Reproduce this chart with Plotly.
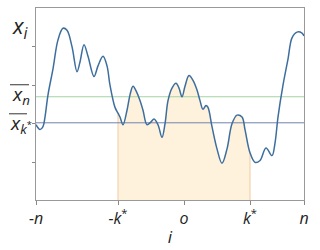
import plotly.graph_objects as go

# index positions (i) and values (x_i)
i_vals = [0, 4, 7, 9, 12, 17, 22, 27, 31, 36, 41, 44, 48, 52, 58, 62, 67, 71, 74, 79,
          82, 84, 87, 91, 94, 97, 101, 104, 107, 111, 115, 118, 122, 126, 129, 132, 136,
          140, 143, 146, 149, 153, 157, 161, 164, 167, 170, 172, 176, 181, 186, 191, 196,
          201, 206, 209, 214, 219, 224, 230, 236, 239, 242, 247, 252, 256, 261, 266, 268]
x_vals = [78, 73, 76, 86, 109, 136, 166, 178, 176, 159, 133, 143, 161, 149, 128, 139, 149,
          139, 119, 96, 90, 86, 78, 93, 109, 118, 111, 103, 93, 78, 81, 84, 78, 65, 79, 103,
          116, 121, 116, 107, 118, 129, 124, 114, 103, 94, 98, 96, 76, 53, 38, 53, 79, 88,
          86, 73, 49, 39, 41, 54, 46, 59, 86, 119, 146, 168, 174, 173, 170]

mean_n = 107       # x̄_n
mean_k = 80        # x̄_k*
i_min, k_neg, i_zero, k_pos, i_max = 0, 82, 148, 214, 268
x_tick_vals = [i_min, k_neg, i_zero, k_pos, i_max]
x_tick_text = ["<i>-n</i>", "<i>-k</i><sup>*</sup>", "<i>o</i>", "<i>k</i><sup>*</sup>", "<i>n</i>"]
y_tick_vals = [39, 79, 119, 159]
y_max = 199

FONT = "Open Sans"
fig = go.Figure()

# shaded region between -k* and k*
sub_i = [a for a in i_vals if k_neg <= a <= k_pos]
sub_x = [b for a, b in zip(i_vals, x_vals) if k_neg <= a <= k_pos]
fig.add_trace(go.Scatter(x=sub_i, y=sub_x, mode="lines", line=dict(width=0, shape="spline"),
                         fill="tozeroy", fillcolor="#fef2dc", hoverinfo="skip"))
edge_col = "#f3c9a2"
fig.add_trace(go.Scatter(x=[sub_i[0], sub_i[0]], y=[0, sub_x[0]], mode="lines",
                         line=dict(color=edge_col, width=1)))
fig.add_trace(go.Scatter(x=[sub_i[-1], sub_i[-1]], y=[0, sub_x[-1]], mode="lines",
                         line=dict(color=edge_col, width=1)))

# mean lines
fig.add_trace(go.Scatter(x=[i_min, i_max], y=[mean_n, mean_n], mode="lines",
                         line=dict(color="#a3d3a3", width=1)))
fig.add_trace(go.Scatter(x=[i_min, i_max], y=[mean_k, mean_k], mode="lines",
                         line=dict(color="#7282b0", width=1)))

# main curve
fig.add_trace(go.Scatter(x=i_vals, y=x_vals, mode="lines",
                         line=dict(color="#3d6e9e", width=1.5, shape="spline", smoothing=1)))

fig.update_layout(
    width=320, height=250, margin=dict(l=36, r=16, t=7, b=44),
    paper_bgcolor="white", plot_bgcolor="white", showlegend=False,
    font=dict(family=FONT, color="#222"),
    xaxis=dict(range=[i_min, i_max], tickvals=x_tick_vals, ticktext=x_tick_text,
               ticks="outside", ticklen=4, tickcolor="#888", showgrid=False, zeroline=False,
               showline=True, linecolor="#999", mirror=True, tickfont=dict(size=16, family=FONT),
               title=dict(text="<i>i</i>", font=dict(size=17, family=FONT), standoff=2)),
    yaxis=dict(range=[0, y_max], tickvals=y_tick_vals, ticktext=[""] * len(y_tick_vals),
               ticks="outside", ticklen=3, tickcolor="#888", showgrid=False, zeroline=False,
               showline=True, linecolor="#999", mirror=True),
)

fig.add_annotation(xref="paper", yref="paper", x=0, y=1, xanchor="right", yanchor="top",
                   xshift=-5, yshift=0, showarrow=False,
                   text="<i>x</i><sub><i>i</i></sub>", font=dict(size=22, family=FONT))
fig.add_annotation(xref="paper", yref="y", x=0, y=mean_n, xanchor="right", yanchor="middle",
                   xshift=-4, yshift=2, showarrow=False,
                   text="<i>x</i><sub><i>n</i></sub>", font=dict(size=19, family=FONT))
fig.add_annotation(xref="paper", yref="y", x=0, y=mean_k, xanchor="right", yanchor="middle",
                   xshift=-2, yshift=-1, showarrow=False,
                   text="<i>x</i><sub><i>k</i><sup>*</sup></sub>", font=dict(size=19, family=FONT))

# overlines above the mean labels
for yv, up, x0, x1 in [(mean_n, 12, -26, -7), (mean_k, 9, -27, -9)]:
    fig.add_shape(type="line", xref="paper", yref="y", xsizemode="pixel", ysizemode="pixel",
                  xanchor=0, yanchor=yv, x0=x0, x1=x1, y0=up, y1=up,
                  line=dict(color="#333", width=1))

fig.write_html("out.html")
